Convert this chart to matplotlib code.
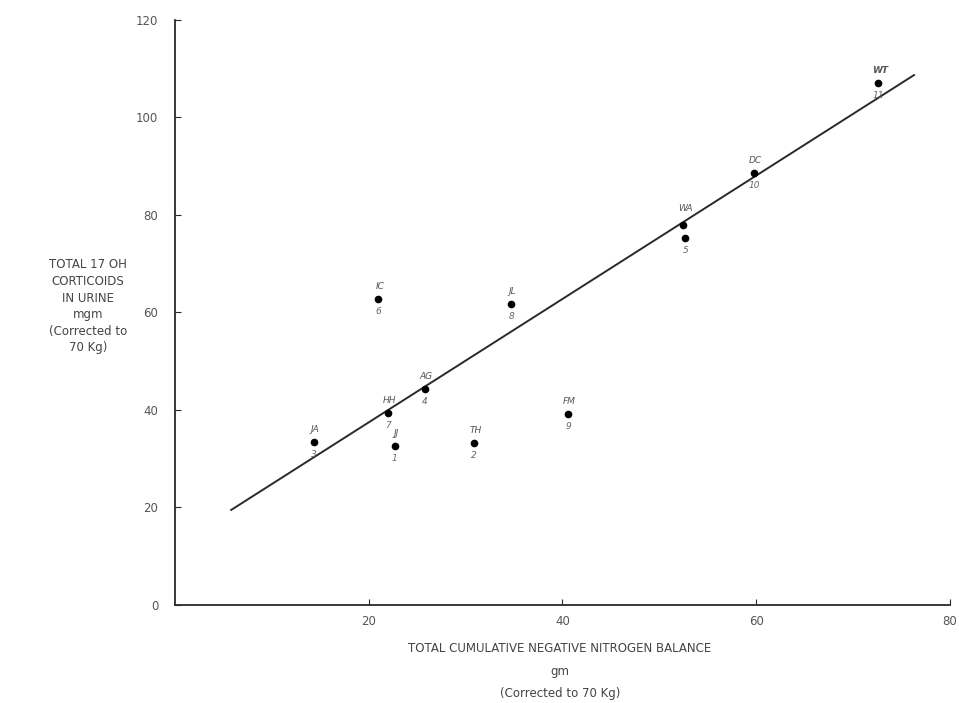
import matplotlib
matplotlib.use("Agg")
import matplotlib.pyplot as plt
import numpy as np

# Patients: initials, case number, nitrogen balance (gm), 17-OH corticoids (mgm)
initials = ["JA", "HH", "JJ", "AG", "IC", "TH", "JL", "FM", "WA", "WA", "DC", "WT"]
case_no = ["3", "7", "1", "4", "6", "2", "8", "9", "", "5", "10", "11"]
nitrogen = [14.3, 22.0, 22.7, 25.8, 21.0, 30.9, 34.7, 40.6, 52.4, 52.7, 59.8, 72.6]
corticoids = [33.4, 39.4, 32.6, 44.3, 62.8, 33.2, 61.7, 39.2, 77.9, 75.3, 88.6, 107.1]

# Fitted regression line endpoints
fit_x = [5.8, 76.3]
fit_y = [19.5, 108.7]

x_ticks = [20, 40, 60, 80]
y_ticks = [0, 20, 40, 60, 80, 100, 120]

ink = "#2a2a2a"
fig = plt.figure(figsize=(9.59, 7.03), dpi=100)
ax = fig.add_axes([0.1825, 0.1394, 0.808, 0.8322])
ax.set_xlim(0, 80)
ax.set_ylim(0, 120)

for s in ["top", "right"]:
    ax.spines[s].set_visible(False)
for s in ["left", "bottom"]:
    ax.spines[s].set_linewidth(1.3)
    ax.spines[s].set_color(ink)

ax.set_xticks(x_ticks)
ax.set_yticks(y_ticks)
ax.tick_params(axis="both", direction="in", length=4, width=0.8, colors=ink,
               labelsize=8.5, labelcolor="#555555")
ax.tick_params(axis="x", pad=7)
ax.tick_params(axis="y", pad=12)

ax.plot(fit_x, fit_y, color=ink, lw=1.4)
ax.plot(nitrogen, corticoids, "o", color="black", ms=4.5)

for name, num, x, y in zip(initials, case_no, nitrogen, corticoids):
    weight = "bold" if name == "WT" else "normal"
    if name == "WA" and num == "":
        ax.annotate(name, (x, y), xytext=(2, 12), textcoords="offset points",
                    ha="center", va="center", fontsize=6.5, color="#555555",
                    style="italic")
        continue
    if name != "WA":
        ax.annotate(name, (x, y), xytext=(1, 9), textcoords="offset points",
                    ha="center", va="center", fontsize=6.5, color="#555555",
                    style="italic", weight=weight)
    ax.annotate(num, (x, y), xytext=(0, -9), textcoords="offset points",
                ha="center", va="center", fontsize=6.5, color="#666666",
                style="italic")

ylab = ["TOTAL 17 OH", "CORTICOIDS", "IN URINE", "mgm", "(Corrected to", "70 Kg)"]
for i, line in enumerate(ylab):
    fig.text(88 / 959, 1 - (265 + i * 16.5) / 703, line, ha="center", va="center",
             fontsize=8.5, color="#444444")

fig.text(560 / 959, 1 - 648 / 703, "TOTAL CUMULATIVE NEGATIVE NITROGEN BALANCE",
         ha="center", va="center", fontsize=8.5, color="#444444")
fig.text(560 / 959, 1 - 671 / 703, "gm", ha="center", va="center",
         fontsize=8.5, color="#444444")
fig.text(560 / 959, 1 - 693 / 703, "(Corrected to 70 Kg)", ha="center",
         va="center", fontsize=8.5, color="#444444")

fig.savefig("out.png", dpi=100, facecolor="white")
